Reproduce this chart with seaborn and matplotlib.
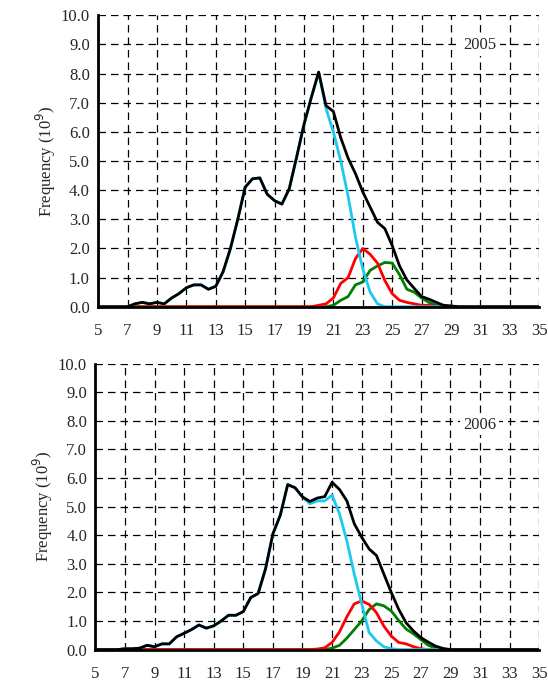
import numpy as np
import pandas as pd
import seaborn as sns
import matplotlib.pyplot as plt

# half-unit grid from 5 to 35; series given from their start value, zero elsewhere
x_min, x_max, step = 5.0, 35.0, 0.5

# 2005
total_2005_start = 7.0
total_2005 = [0.0, 0.1, 0.15, 0.1, 0.15, 0.1, 0.3, 0.45, 0.65, 0.75, 0.75, 0.6, 0.7, 1.2,
              2.0, 3.0, 4.1, 4.39, 4.42, 3.86, 3.64, 3.52, 4.05, 5.13, 6.25, 7.18, 8.05,
              6.9, 6.7, 5.8, 5.1, 4.57, 3.94, 3.42, 2.9, 2.68, 2.1, 1.4, 0.92, 0.63, 0.35,
              0.26, 0.15, 0.05, 0.03]
cyan_2005_start = 7.0
cyan_2005 = total_2005[:27] + [6.8, 6.0, 5.0, 3.8, 2.4, 1.3, 0.5, 0.1, 0.0]
red_2005_start = 19.5
red_2005 = [0.0, 0.05, 0.1, 0.3, 0.8, 1.0, 1.65, 2.0, 1.8, 1.5, 0.9, 0.45, 0.22, 0.15,
            0.1, 0.05, 0.05, 0.0]
green_2005_start = 20.5
green_2005 = [0.0, 0.05, 0.22, 0.35, 0.75, 0.85, 1.25, 1.4, 1.52, 1.5, 1.1, 0.6, 0.5,
              0.3, 0.15, 0.05, 0.0]

# 2006
total_2006_start = 7.0
total_2006 = [0.03, 0.03, 0.05, 0.15, 0.1, 0.2, 0.2, 0.45, 0.57, 0.7, 0.86, 0.75, 0.83,
              1.0, 1.2, 1.2, 1.33, 1.82, 1.96, 2.82, 4.05, 4.7, 5.77, 5.66, 5.34, 5.18,
              5.3, 5.35, 5.85, 5.6, 5.2, 4.4, 3.93, 3.52, 3.29, 2.64, 2.0, 1.41, 0.94,
              0.65, 0.42, 0.26, 0.12, 0.04, 0.0]
cyan_2006_start = 7.0
cyan_2006 = total_2006[:25] + [5.1, 5.2, 5.2, 5.4, 4.75, 3.8, 2.64, 1.6, 0.6, 0.3,
                               0.1, 0.03, 0.0]
red_2006_start = 19.5
red_2006 = [0.0, 0.02, 0.06, 0.25, 0.62, 1.15, 1.6, 1.7, 1.58, 1.29, 0.82, 0.47, 0.25,
            0.2, 0.1, 0.03, 0.0]
green_2006_start = 20.5
green_2006 = [0.0, 0.05, 0.15, 0.4, 0.7, 1.0, 1.4, 1.6, 1.53, 1.35, 1.02, 0.72, 0.55,
              0.35, 0.15, 0.05, 0.0]

years = ["2005", "2006"]
x_ticks = list(range(5, 36, 2))
y_ticks = [0, 1, 2, 3, 4, 5, 6, 7, 8, 9, 10]
colors = {"total": "black", "cyan": "#1ec8f0", "red": "red", "green": "green"}


def to_frame(name, start, vals):
    x_full = np.arange(x_min, x_max + step / 2, step)
    y_full = np.zeros_like(x_full)
    i0 = int(round((start - x_min) / step))
    y_full[i0:i0 + len(vals)] = vals
    return pd.DataFrame({"size": x_full, "freq": y_full, "series": name})


data = {
    "2005": pd.concat([to_frame("green", green_2005_start, green_2005),
                       to_frame("red", red_2005_start, red_2005),
                       to_frame("cyan", cyan_2005_start, cyan_2005),
                       to_frame("total", total_2005_start, total_2005)]),
    "2006": pd.concat([to_frame("green", green_2006_start, green_2006),
                       to_frame("red", red_2006_start, red_2006),
                       to_frame("cyan", cyan_2006_start, cyan_2006),
                       to_frame("total", total_2006_start, total_2006)]),
}

sns.set_style("white")
plt.rcParams["font.family"] = ["Liberation Serif", "DejaVu Serif"]

fig = plt.figure(figsize=(5.48, 6.94), dpi=100)
ax_pos = [[0.179, 0.558, 0.805, 0.420], [0.174, 0.064, 0.810, 0.412]]
label_y = [0.897, 0.787]

for year, pos, ly in zip(years, ax_pos, label_y):
    ax = fig.add_axes(pos)
    sns.lineplot(data=data[year], x="size", y="freq", hue="series",
                 hue_order=["green", "red", "cyan", "total"], palette=colors,
                 linewidth=2.0, legend=False, ax=ax)
    ax.set_xlim(5, 35)
    ax.set_ylim(0, 10)
    ax.set_xticks(x_ticks)
    ax.set_yticks(y_ticks)
    ax.set_yticklabels([f"{v:.1f}" for v in y_ticks])
    ax.grid(True, color="black", linestyle=(0, (6, 4)), linewidth=0.9)
    for s in ["top", "right"]:
        ax.spines[s].set_visible(False)
    for s in ["left", "bottom"]:
        ax.spines[s].set_color("black")
        ax.spines[s].set_linewidth(2.0)
    ax.tick_params(axis="both", labelsize=12, length=0, pad=6)
    ax.tick_params(axis="x", pad=12)
    ax.set_xlabel("")
    ax.set_ylabel("Frequency (10$^9$)", fontsize=12, labelpad=2)
    ax.text(0.866, ly, year, transform=ax.transAxes, fontsize=12, ha="center", va="center",
            bbox=dict(facecolor="white", edgecolor="none", pad=2))

fig.savefig("out.png", dpi=100)
